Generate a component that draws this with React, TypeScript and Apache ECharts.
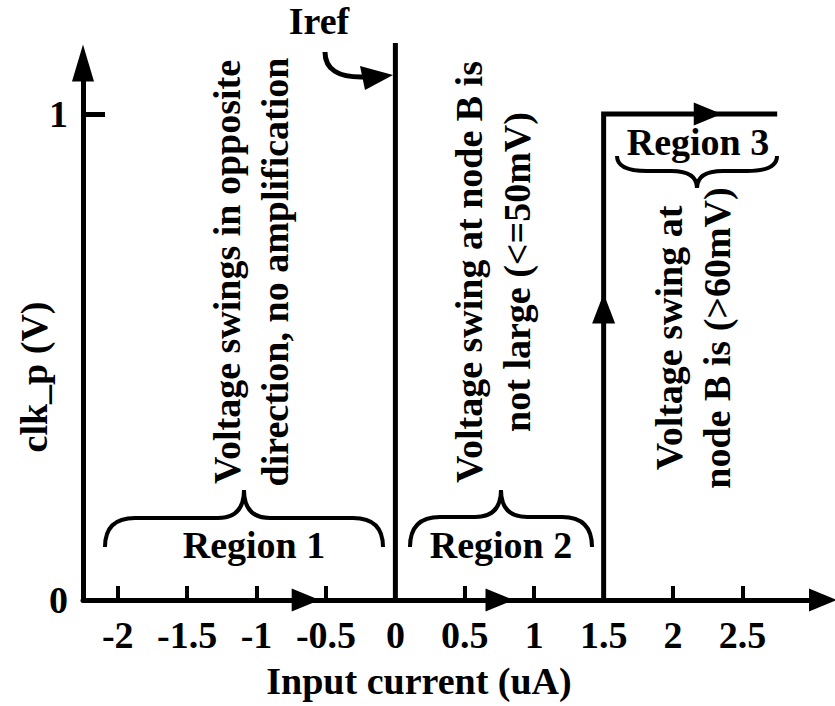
import React, { useEffect, useRef } from "react";
import * as echarts from "echarts";

// ---- data ----
const xLabelValues = [-2, -1.5, -1, -0.5, 0, 0.5, 1, 1.5, 2, 2.5];
const xTickValues = [-2, -1.5, -1, -0.5, 0.5, 1, 2, 2.5];
const yLabelValues = [0, 1];
const yTickValues = [1];
const irefLine = [
  [0, 0],
  [0, 1.146],
];
const clkLine = [
  [1.5, 0],
  [1.5, 1],
  [2.75, 1],
];
const rightArrows = [
  [-0.646, 0],
  [0.75, 0],
  [2.25, 1],
];
const upArrows = [[1.5, 0.6]];
const xAxisTitle = "Input current (uA)";
const yAxisTitle = "clk_p (V)";
const irefLabel = "Iref";
const regionLabels = ["Region 1", "Region 2", "Region 3"];
const region1Text = "Voltage swings in opposite\ndirection, no amplification";
const region2Text = "Voltage swing at node B is\nnot large (<=50mV)";
const region3Text = "Voltage swing at\nnode B is (>60mV)";

const FONT = "Liberation Serif";
const BLACK = "#000";

function txt(text: string, x: number, y: number, rotate = false, lineHeight = 48) {
  return {
    type: "text",
    x,
    y,
    rotation: rotate ? Math.PI / 2 : 0,
    style: {
      text,
      fill: BLACK,
      fontSize: 38,
      fontWeight: "bold",
      fontFamily: FONT,
      align: "center",
      verticalAlign: "middle",
      lineHeight,
    },
  };
}

function brace(xL: number, xR: number, yEnd: number, yFlat: number, yTip: number) {
  const xM = (xL + xR) / 2;
  const r = 30;
  const rt = 26;
  const st = { stroke: BLACK, lineWidth: 4, fill: "none" };
  return {
    type: "group",
    children: [
      { type: "bezierCurve", shape: { x1: xL, y1: yEnd, cpx1: xL, cpy1: yFlat, x2: xL + r, y2: yFlat }, style: st },
      { type: "line", shape: { x1: xL + r, y1: yFlat, x2: xM - rt, y2: yFlat }, style: st },
      { type: "bezierCurve", shape: { x1: xM - rt, y1: yFlat, cpx1: xM, cpy1: yFlat, x2: xM, y2: yTip }, style: st },
      { type: "bezierCurve", shape: { x1: xM, y1: yTip, cpx1: xM, cpy1: yFlat, x2: xM + rt, y2: yFlat }, style: st },
      { type: "line", shape: { x1: xM + rt, y1: yFlat, x2: xR - r, y2: yFlat }, style: st },
      { type: "bezierCurve", shape: { x1: xR - r, y1: yFlat, cpx1: xR, cpy1: yFlat, x2: xR, y2: yEnd }, style: st },
    ],
  };
}

export default function App() {
  const ref = useRef<HTMLDivElement>(null);
  useEffect(() => {
    if (!ref.current) return;
    document.body.style.margin = "0";
    const chart = echarts.init(ref.current, null, { renderer: "svg" });
    const labelStyle = {
      color: BLACK,
      fontSize: 38,
      fontWeight: "bold",
      fontFamily: FONT,
    };
    chart.setOption({
      animation: false,
      backgroundColor: "#fff",
      textStyle: { fontFamily: FONT, fontWeight: "bold", fontSize: 38, color: BLACK },
      grid: { left: 83, right: 12, top: 63, bottom: 106, containLabel: false },
      xAxis: {
        type: "value",
        min: -2.25,
        max: 3.08,
        splitLine: { show: false },
        axisLine: {
          onZero: false,
          symbol: ["none", "triangle"],
          symbolSize: [23, 28],
          lineStyle: { color: BLACK, width: 5 },
        },
        axisTick: {
          show: true,
          inside: true,
          length: 14,
          customValues: xTickValues,
          lineStyle: { color: BLACK, width: 4 },
        },
        axisLabel: {
          ...labelStyle,
          margin: 16,
          customValues: xLabelValues,
          formatter: (v: number) => String(v),
        },
      },
      yAxis: {
        type: "value",
        min: 0,
        max: 1.105,
        splitLine: { show: false },
        axisLine: {
          onZero: false,
          symbol: ["none", "triangle"],
          symbolSize: [22, 37],
          lineStyle: { color: BLACK, width: 5 },
        },
        axisTick: {
          show: true,
          inside: true,
          length: 22,
          customValues: yTickValues,
          lineStyle: { color: BLACK, width: 5 },
        },
        axisLabel: {
          ...labelStyle,
          margin: 15,
          customValues: yLabelValues,
          formatter: (v: number) => String(v),
        },
      },
      series: [
        {
          type: "line",
          data: irefLine,
          symbol: "none",
          clip: false,
          silent: true,
          lineStyle: { color: BLACK, width: 5 },
        },
        {
          type: "line",
          data: clkLine,
          symbol: "none",
          clip: false,
          silent: true,
          lineStyle: { color: BLACK, width: 5, join: "miter", cap: "butt" },
        },
        {
          type: "scatter",
          data: rightArrows,
          symbol: "triangle",
          symbolSize: [23, 28],
          symbolRotate: -90,
          silent: true,
          itemStyle: { color: BLACK, opacity: 1 },
        },
        {
          type: "scatter",
          data: upArrows,
          symbol: "triangle",
          symbolSize: [23, 30],
          silent: true,
          itemStyle: { color: BLACK, opacity: 1 },
        },
      ],
      graphic: [
        txt(irefLabel, 319, 21),
        {
          type: "bezierCurve",
          shape: { x1: 325, y1: 52, cpx1: 325, cpy1: 78, x2: 364, y2: 77 },
          style: { stroke: BLACK, lineWidth: 5, fill: "none" },
        },
        {
          type: "polygon",
          shape: { points: [[393, 75], [360, 66], [365, 90]] },
          style: { fill: BLACK },
        },
        brace(105, 383, 547, 518, 490),
        brace(410, 592, 547, 517, 490),
        brace(617, 777, 156, 171, 188),
        txt(regionLabels[0], 254, 545),
        txt(regionLabels[1], 501, 545),
        txt(regionLabels[2], 698, 142),
        txt(region1Text, 251, 272, true),
        txt(region2Text, 493, 272, true),
        txt(region3Text, 693, 338, true),
        txt(yAxisTitle, 34, 377, true),
        txt(xAxisTitle, 419, 681),
      ],
    });
    return () => chart.dispose();
  }, []);
  return (
    <div style={{ fontFamily: FONT, fontWeight: "bold" }}>
      <div ref={ref} style={{ width: 835, height: 706, background: "#fff" }} />
    </div>
  );
}
